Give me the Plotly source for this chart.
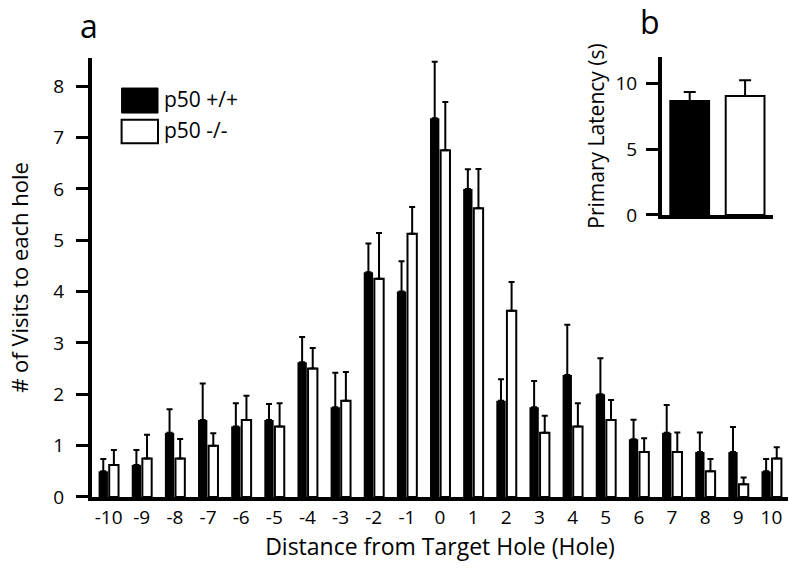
import plotly.graph_objects as go

# main panel (a): visits per hole
holes = [str(h) for h in range(-10, 11)]
wt_mean = [0.5, 0.625, 1.25, 1.5, 1.375, 1.5, 2.625, 1.75, 4.375, 4.0, 7.375,
           6.0, 1.875, 1.75, 2.375, 2.0, 1.125, 1.25, 0.875, 0.875, 0.5]
wt_err = [0.24, 0.29, 0.46, 0.71, 0.45, 0.31, 0.49, 0.67, 0.56, 0.59, 1.10,
          0.38, 0.42, 0.51, 0.98, 0.70, 0.38, 0.54, 0.38, 0.49, 0.24]
ko_mean = [0.625, 0.75, 0.75, 1.0, 1.5, 1.375, 2.5, 1.875, 4.25, 5.125, 6.75,
           5.625, 3.625, 1.25, 1.375, 1.5, 0.875, 0.875, 0.5, 0.25, 0.75]
ko_err = [0.29, 0.46, 0.38, 0.24, 0.47, 0.45, 0.40, 0.56, 0.89, 0.52, 0.94,
          0.76, 0.56, 0.33, 0.45, 0.39, 0.27, 0.38, 0.24, 0.13, 0.22]

# inset panel (b): primary latency
groups = ["p50 +/+", "p50 -/-"]
lat_mean = [8.66, 9.04]
lat_err = [0.68, 1.19]

FONT = "Open Sans"

fig = go.Figure()
fig.add_trace(go.Bar(x=holes, y=wt_mean, name="p50 +/+",
                     marker=dict(color="black", line=dict(width=0)),
                     error_y=dict(type="data", array=wt_err, arrayminus=[0] * len(wt_err),
                                  color="black", thickness=2, width=3)))
fig.add_trace(go.Bar(x=holes, y=ko_mean, name="p50 -/-",
                     marker=dict(color="white", line=dict(color="black", width=2)),
                     error_y=dict(type="data", array=ko_err, arrayminus=[0] * len(ko_err),
                                  color="black", thickness=2, width=3)))

fig.add_trace(go.Bar(x=groups, y=lat_mean, xaxis="x2", yaxis="y2", width=0.7,
                     marker=dict(color=["black", "white"], line=dict(color="black", width=2)),
                     error_y=dict(type="data", array=lat_err, arrayminus=[0, 0],
                                  color="black", thickness=2, width=6),
                     showlegend=False))

fig.update_layout(
    width=800, height=568,
    margin=dict(l=0, r=0, t=0, b=0),
    paper_bgcolor="white", plot_bgcolor="white",
    font=dict(family=FONT, color="black", size=19),
    barmode="group", bargap=0.36, bargroupgap=0.12,
    showlegend=False,
    xaxis=dict(domain=[0.115, 0.985], range=[-0.5, 20.5], type="category", automargin=False,
               showline=True, linewidth=4, linecolor="black", ticks="",
               showgrid=False, zeroline=False, tickfont=dict(size=19),
               title=dict(text="Distance from Target Hole (Hole)", font=dict(size=23), standoff=10)),
    yaxis=dict(domain=[0.125, 0.898], range=[0, 8.55], dtick=1, automargin=False,
               showline=True, linewidth=4, linecolor="black",
               ticks="outside", ticklen=12, tickwidth=3, tickcolor="black",
               ticklabelstandoff=8,
               showgrid=False, zeroline=False, tickfont=dict(size=19),
               title=dict(text="# of Visits to each hole", font=dict(size=22), standoff=20)),
    xaxis2=dict(domain=[0.8275, 0.966], range=[-0.5, 1.5], anchor="y2", automargin=False,
                showline=True, linewidth=4, linecolor="black", ticks="",
                showticklabels=False, showgrid=False, zeroline=False),
    yaxis2=dict(domain=[0.6215, 0.8996], range=[0, 12], tickvals=[0, 5, 10], anchor="x2",
                automargin=False,
                showline=True, linewidth=4, linecolor="black",
                ticks="outside", ticklen=12, tickwidth=3, tickcolor="black",
                ticklabelstandoff=5,
                showgrid=False, zeroline=False, tickfont=dict(size=19),
                title=dict(text="Primary Latency (s)", font=dict(size=21), standoff=6)),
)

# hand-drawn legend like the original figure
fig.add_shape(type="rect", xref="paper", yref="paper", x0=0.152, x1=0.1975, y0=0.801, y1=0.845,
              fillcolor="black", line=dict(color="black", width=1))
fig.add_shape(type="rect", xref="paper", yref="paper", x0=0.152, x1=0.1975, y0=0.748, y1=0.789,
              fillcolor="white", line=dict(color="black", width=2))
fig.add_annotation(xref="paper", yref="paper", x=0.203, y=0.825, text="p50 +/+", showarrow=False,
                   xanchor="left", yanchor="middle", font=dict(size=21))
fig.add_annotation(xref="paper", yref="paper", x=0.203, y=0.771, text="p50 -/-", showarrow=False,
                   xanchor="left", yanchor="middle", font=dict(size=21))

# panel letters
fig.add_annotation(xref="paper", yref="paper", x=0.111, y=0.955, text="a", showarrow=False,
                   xanchor="center", yanchor="middle", font=dict(size=32))
fig.add_annotation(xref="paper", yref="paper", x=0.8125, y=0.962, text="b", showarrow=False,
                   xanchor="center", yanchor="middle", font=dict(size=32))

# page body has a default 8px margin, drop it so the figure fills the window
fig.write_html("out.html", config={"displayModeBar": False},
               post_script="document.body.style.margin = '0';")
